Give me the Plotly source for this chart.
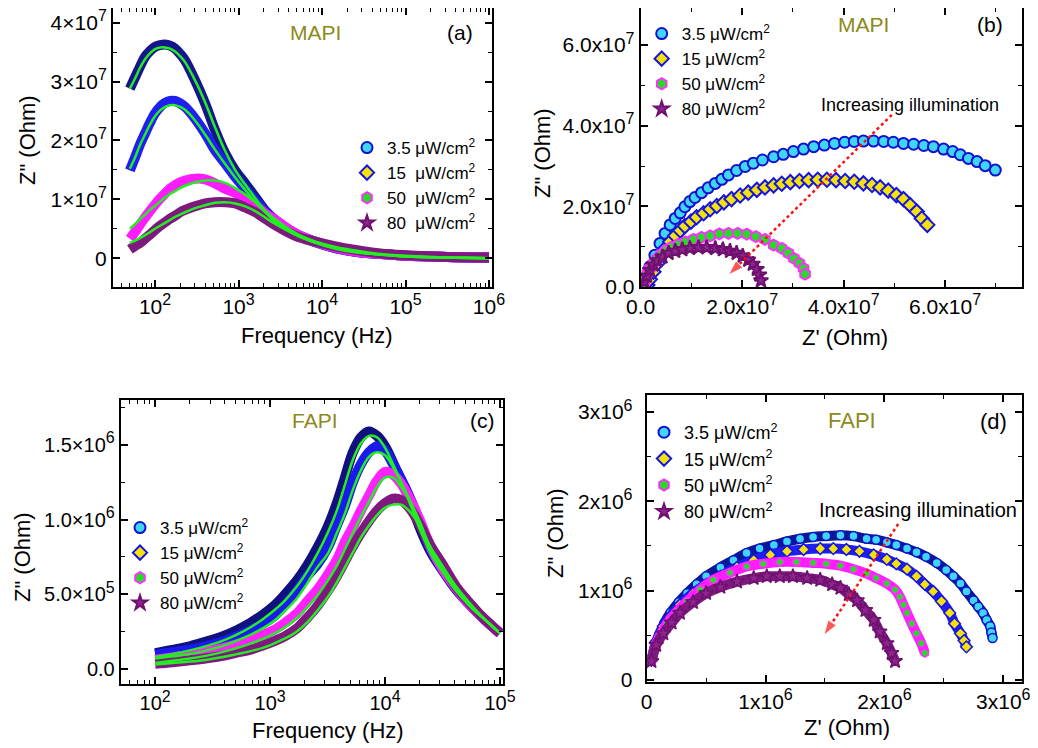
import plotly.graph_objects as go

# Page has an 8px body margin; the figure is sized so that it ends at the window edge.
OFF = 8
W, H = 1038 - OFF, 748 - OFF
FONT = "Liberation Sans, Arial, Helvetica, sans-serif"

# ---------------- DATA ----------------
labels = ["3.5 μW/cm<sup>2</sup>", "15 μW/cm<sup>2</sup>", "50 μW/cm<sup>2</sup>", "80 μW/cm<sup>2</sup>"]
labels_a = ["3.5 μW/cm<sup>2</sup>", "15\u00a0 μW/cm<sup>2</sup>", "50\u00a0 μW/cm<sup>2</sup>", "80\u00a0 μW/cm<sup>2</sup>"]

# Panel (a): MAPI Bode, Z'' in units of 1e7 Ohm
freq_a = [50, 58, 66, 76, 87, 100, 115, 132, 151, 174, 200, 229, 302, 398, 525, 692, 912,
          1202, 1585, 2089, 2754, 4786, 8318, 14454, 25119, 50119, 100000, 316228, 1000000]
za_35 = [2.88, 3.08, 3.25, 3.42, 3.52, 3.59, 3.62, 3.63, 3.61, 3.56, 3.47, 3.36, 3.02, 2.63, 2.17,
         1.78, 1.49, 1.27, 1.04, 0.81, 0.65, 0.42, 0.28, 0.17, 0.11, 0.07, 0.04, 0.02, 0.01]
za_15 = [1.49, 1.72, 1.93, 2.12, 2.30, 2.46, 2.57, 2.64, 2.67, 2.67, 2.63, 2.57, 2.37, 2.12, 1.83,
         1.61, 1.38, 1.18, 0.98, 0.79, 0.63, 0.41, 0.27, 0.17, 0.11, 0.07, 0.04, 0.02, 0.01]
za_50 = [0.33, 0.45, 0.57, 0.69, 0.80, 0.91, 1.01, 1.10, 1.18, 1.24, 1.29, 1.32, 1.35, 1.34, 1.27,
         1.18, 1.11, 1.01, 0.90, 0.76, 0.65, 0.42, 0.28, 0.18, 0.11, 0.07, 0.04, 0.02, 0.01]
za_80 = [0.15, 0.21, 0.26, 0.33, 0.40, 0.48, 0.55, 0.61, 0.67, 0.72, 0.78, 0.82, 0.88, 0.93, 0.95,
         0.95, 0.93, 0.86, 0.78, 0.67, 0.56, 0.38, 0.28, 0.20, 0.14, 0.08, 0.05, 0.02, 0.01]
fa_35 = [2.88, 3.06, 3.23, 3.38, 3.48, 3.55, 3.58, 3.58, 3.56, 3.51, 3.43, 3.33, 3.02, 2.65, 2.22,
         1.82, 1.50, 1.25, 1.02, 0.80, 0.63, 0.41, 0.27, 0.17, 0.11, 0.06, 0.03, 0.01, 0.00]
fa_15 = [1.52, 1.72, 1.92, 2.10, 2.27, 2.41, 2.51, 2.57, 2.60, 2.60, 2.57, 2.52, 2.34, 2.10, 1.84,
         1.60, 1.37, 1.16, 0.96, 0.78, 0.62, 0.40, 0.26, 0.16, 0.10, 0.06, 0.03, 0.01, 0.00]
fa_50 = [0.50, 0.58, 0.66, 0.74, 0.82, 0.89, 0.96, 1.03, 1.09, 1.14, 1.19, 1.23, 1.29, 1.32, 1.32,
         1.28, 1.19, 1.08, 0.95, 0.80, 0.66, 0.43, 0.28, 0.18, 0.11, 0.06, 0.03, 0.01, 0.00]
fa_80 = [0.26, 0.30, 0.34, 0.39, 0.44, 0.50, 0.55, 0.60, 0.65, 0.70, 0.74, 0.78, 0.85, 0.90, 0.94,
         0.95, 0.93, 0.88, 0.80, 0.69, 0.58, 0.40, 0.28, 0.19, 0.13, 0.07, 0.04, 0.01, 0.00]

# Panel (b): MAPI Nyquist, units of 1e7 Ohm
zb_35_re = [0.07, 0.11, 0.18, 0.28, 0.38, 0.48, 0.58, 0.68, 0.78, 0.87, 0.97, 1.07, 1.20, 1.33, 1.47,
            1.60, 1.73, 1.89, 2.06, 2.22, 2.40, 2.62, 2.81, 3.01, 3.21, 3.41, 3.62, 3.82, 4.02, 4.21,
            4.39, 4.59, 4.79, 4.98, 5.18, 5.38, 5.58, 5.77, 5.97, 6.15, 6.30, 6.46, 6.63, 6.79, 6.99]
zb_35_im = [0.09, 0.26, 0.50, 0.79, 1.08, 1.33, 1.54, 1.70, 1.84, 1.99, 2.12, 2.22, 2.34, 2.46, 2.57,
            2.67, 2.78, 2.89, 2.99, 3.07, 3.15, 3.23, 3.29, 3.36, 3.42, 3.48, 3.52, 3.56, 3.59, 3.61,
            3.62, 3.62, 3.61, 3.59, 3.56, 3.54, 3.51, 3.48, 3.42, 3.36, 3.28, 3.19, 3.11, 3.01, 2.90]
zb_15_re = [0.13, 0.18, 0.25, 0.33, 0.41, 0.49, 0.58, 0.68, 0.78, 0.87, 0.99, 1.10, 1.24, 1.37, 1.50,
            1.64, 1.79, 1.96, 2.12, 2.29, 2.45, 2.62, 2.78, 2.95, 3.13, 3.31, 3.49, 3.67, 3.85, 4.03,
            4.21, 4.39, 4.56, 4.72, 4.88, 5.04, 5.18, 5.31, 5.44, 5.54, 5.65]
zb_15_im = [0.05, 0.19, 0.38, 0.59, 0.79, 0.96, 1.12, 1.27, 1.40, 1.51, 1.62, 1.73, 1.83, 1.93, 2.01,
            2.10, 2.18, 2.27, 2.34, 2.41, 2.47, 2.52, 2.56, 2.60, 2.63, 2.65, 2.66, 2.66, 2.65, 2.63,
            2.61, 2.57, 2.53, 2.47, 2.39, 2.28, 2.18, 2.03, 1.87, 1.70, 1.54]
zb_50_re = [0.07, 0.09, 0.13, 0.18, 0.25, 0.33, 0.41, 0.51, 0.61, 0.74, 0.88, 1.04, 1.20, 1.37, 1.55,
            1.73, 1.91, 2.09, 2.27, 2.45, 2.62, 2.78, 2.91, 3.02, 3.13, 3.21, 3.24]
zb_50_im = [0.09, 0.22, 0.34, 0.46, 0.59, 0.71, 0.82, 0.92, 0.99, 1.06, 1.12, 1.18, 1.23, 1.27, 1.32,
            1.33, 1.33, 1.31, 1.25, 1.18, 1.04, 0.96, 0.84, 0.71, 0.59, 0.46, 0.32]
zb_80_re = [0.07, 0.12, 0.18, 0.25, 0.33, 0.43, 0.55, 0.68, 0.82, 0.97, 1.14, 1.30, 1.47, 1.62, 1.76,
            1.89, 2.01, 2.12, 2.21, 2.29, 2.34, 2.37]
zb_80_im = [0.13, 0.27, 0.42, 0.55, 0.65, 0.75, 0.84, 0.89, 0.93, 0.96, 0.98, 0.98, 0.96, 0.93, 0.89,
            0.84, 0.77, 0.67, 0.57, 0.44, 0.30, 0.16]
arrow_b_re = [4.95, 1.73]
arrow_b_im = [4.27, 0.30]

# Panel (c): FAPI Bode, units of 1e6 Ohm
freq_c = [100, 141, 200, 282, 389, 513, 676, 851, 1072, 1349, 1698, 2089, 2570, 3162, 3802, 4467,
          5248, 6166, 7244, 8511, 10000, 11749, 13804, 16596, 19953, 25119, 31623, 41687, 56234,
          74131, 100000]
zc_35 = [0.107, 0.128, 0.152, 0.185, 0.22, 0.26, 0.31, 0.36, 0.42, 0.50, 0.59, 0.69, 0.81, 0.95,
         1.11, 1.28, 1.45, 1.55, 1.59, 1.56, 1.49, 1.38, 1.26, 1.12, 0.95, 0.78, 0.66, 0.53, 0.42,
         0.33, 0.24]
zc_15 = [0.096, 0.112, 0.13, 0.155, 0.185, 0.22, 0.26, 0.30, 0.35, 0.43, 0.52, 0.62, 0.70, 0.81,
         0.96, 1.09, 1.25, 1.37, 1.45, 1.49, 1.46, 1.37, 1.27, 1.14, 0.99, 0.80, 0.67, 0.54, 0.42,
         0.33, 0.24]
zc_50 = [0.062, 0.078, 0.096, 0.117, 0.14, 0.165, 0.196, 0.225, 0.26, 0.31, 0.37, 0.45, 0.53, 0.63,
         0.73, 0.85, 0.95, 1.06, 1.16, 1.26, 1.32, 1.30, 1.24, 1.13, 1.00, 0.81, 0.67, 0.54, 0.42,
         0.33, 0.24]
zc_80 = [0.036, 0.046, 0.058, 0.072, 0.089, 0.11, 0.13, 0.155, 0.185, 0.22, 0.27, 0.34, 0.42, 0.52,
         0.62, 0.72, 0.82, 0.91, 0.99, 1.06, 1.11, 1.14, 1.13, 1.07, 0.97, 0.82, 0.70, 0.55, 0.43,
         0.33, 0.24]
fc_35 = [0.08, 0.10, 0.125, 0.155, 0.19, 0.23, 0.28, 0.33, 0.39, 0.46, 0.55, 0.65, 0.77, 0.91, 1.06,
         1.23, 1.40, 1.51, 1.56, 1.55, 1.48, 1.37, 1.25, 1.10, 0.94, 0.77, 0.65, 0.52, 0.41, 0.33, 0.24]
fc_15 = [0.07, 0.085, 0.10, 0.125, 0.155, 0.19, 0.23, 0.27, 0.32, 0.39, 0.47, 0.57, 0.68, 0.77, 0.91,
         1.04, 1.20, 1.33, 1.42, 1.45, 1.43, 1.35, 1.25, 1.12, 0.97, 0.79, 0.66, 0.53, 0.42, 0.33, 0.24]
fc_50 = [0.04, 0.055, 0.07, 0.09, 0.115, 0.14, 0.17, 0.20, 0.235, 0.28, 0.34, 0.41, 0.49, 0.59, 0.69,
         0.80, 0.91, 1.02, 1.12, 1.22, 1.28, 1.28, 1.22, 1.12, 0.99, 0.80, 0.66, 0.53, 0.42, 0.33, 0.24]
fc_80 = [0.03, 0.04, 0.05, 0.063, 0.08, 0.10, 0.12, 0.14, 0.17, 0.205, 0.25, 0.31, 0.39, 0.48, 0.58,
         0.68, 0.78, 0.88, 0.96, 1.03, 1.08, 1.10, 1.10, 1.05, 0.96, 0.81, 0.69, 0.55, 0.43, 0.33, 0.24]

# Panel (d): FAPI Nyquist, units of 1e6 Ohm
zd_35_re = [0.04, 0.07, 0.11, 0.15, 0.20, 0.27, 0.34, 0.42, 0.50, 0.62, 0.73, 0.84, 0.95, 1.07, 1.18,
            1.29, 1.40, 1.51, 1.63, 1.74, 1.85, 1.93, 2.02, 2.10, 2.19, 2.27, 2.35, 2.44, 2.52, 2.58,
            2.64, 2.69, 2.75, 2.79, 2.83, 2.86, 2.89, 2.90, 2.91]
zd_35_im = [0.22, 0.37, 0.52, 0.64, 0.75, 0.87, 0.97, 1.07, 1.16, 1.26, 1.34, 1.42, 1.47, 1.51, 1.55,
            1.58, 1.60, 1.61, 1.62, 1.61, 1.58, 1.57, 1.54, 1.51, 1.47, 1.43, 1.38, 1.31, 1.23, 1.16,
            1.08, 0.99, 0.89, 0.82, 0.75, 0.67, 0.60, 0.53, 0.47]
zd_15_re = [0.04, 0.08, 0.14, 0.20, 0.28, 0.39, 0.50, 0.62, 0.76, 0.90, 1.04, 1.18, 1.32, 1.46, 1.57,
            1.68, 1.79, 1.91, 2.02, 2.10, 2.19, 2.27, 2.34, 2.41, 2.48, 2.55, 2.59, 2.64, 2.67, 2.69]
zd_15_im = [0.22, 0.43, 0.60, 0.71, 0.84, 0.97, 1.07, 1.16, 1.26, 1.34, 1.40, 1.44, 1.46, 1.47, 1.47,
            1.46, 1.44, 1.40, 1.35, 1.30, 1.24, 1.16, 1.07, 0.99, 0.88, 0.75, 0.63, 0.52, 0.44, 0.37]
zd_50_re = [0.04, 0.08, 0.13, 0.17, 0.25, 0.34, 0.45, 0.56, 0.70, 0.84, 0.98, 1.12, 1.26, 1.40, 1.51,
            1.63, 1.74, 1.85, 1.93, 2.02, 2.09, 2.13, 2.16, 2.19, 2.23, 2.27, 2.31, 2.34]
zd_50_im = [0.21, 0.41, 0.54, 0.63, 0.76, 0.88, 1.01, 1.12, 1.20, 1.27, 1.30, 1.32, 1.32, 1.31, 1.30,
            1.28, 1.24, 1.19, 1.14, 1.08, 1.01, 0.93, 0.84, 0.75, 0.63, 0.52, 0.41, 0.30]
zd_80_re = [0.04, 0.08, 0.14, 0.21, 0.28, 0.39, 0.50, 0.62, 0.76, 0.90, 1.01, 1.12, 1.23, 1.35, 1.46,
            1.56, 1.63, 1.70, 1.77, 1.84, 1.91, 1.96, 2.02, 2.06, 2.09]
zd_80_im = [0.21, 0.39, 0.52, 0.64, 0.75, 0.87, 0.97, 1.04, 1.10, 1.14, 1.16, 1.16, 1.16, 1.14, 1.12,
            1.07, 1.03, 0.96, 0.89, 0.78, 0.67, 0.54, 0.41, 0.30, 0.21]
arrow_d_re = [2.116, 1.49]
arrow_d_im = [1.745, 0.50]

# Tick labels (superscript exponents drawn a little larger than default)
def sp(e):
    return "<sup><span style='font-size:16px'>" + e + "</span></sup>"

ticks_a_x = [1e2, 1e3, 1e4, 1e5, 1e6]
ticktext_a_x = ["10" + sp("2"), "10" + sp("3"), "10" + sp("4"), "10" + sp("5"), "10" + sp("6")]
ticks_a_y = [0, 1e7, 2e7, 3e7, 4e7]
ticktext_a_y = ["0", "1×10" + sp("7"), "2×10" + sp("7"), "3×10" + sp("7"), "4×10" + sp("7")]
ticks_b = [0, 2e7, 4e7, 6e7]
ticktext_b = ["0.0", "2.0x10" + sp("7"), "4.0x10" + sp("7"), "6.0x10" + sp("7")]
ticks_c_x = [1e2, 1e3, 1e4, 1e5]
ticktext_c_x = ["10" + sp("2"), "10" + sp("3"), "10" + sp("4"), "10" + sp("5")]
ticks_c_y = [0, 5e5, 1e6, 1.5e6]
ticktext_c_y = ["0.0", "5.0×10" + sp("5"), "1.0×10" + sp("6"), "1.5×10" + sp("6")]
ticks_d = [0, 1e6, 2e6, 3e6]
ticktext_d = ["0", "1x10" + sp("6"), "2x10" + sp("6"), "3x10" + sp("6")]

# ---------------- STYLE ----------------
GREEN = "#22ee22"
band_a = ["#15158c", "#1f1ff0", "#ff1cff", "#7e1a7e"]
band_c = ["#10107e", "#1a1aee", "#ff22ff", "#80187f"]
mk_sym = ["circle", "diamond", "hexagon", "star"]
mk_fill = ["#3fd6f5", "#f5e20a", "#22dd22", "#8e248e"]
mk_edge = ["#1010d0", "#1414e6", "#ff30ff", "#6e106e"]

def s(vals, k):
    return [v * k for v in vals]

fig = go.Figure()

# ---- panel (a) ----
for z, c in zip([za_35, za_15, za_50, za_80], band_a):
    fig.add_trace(go.Scatter(x=freq_a, y=s(z, 1e7), mode="lines", line=dict(color=c, width=10, shape="spline"),
                             xaxis="x", yaxis="y", showlegend=False, hoverinfo="skip"))
for z in [fa_35, fa_15, fa_50, fa_80]:
    fig.add_trace(go.Scatter(x=freq_a, y=s(z, 1e7), mode="lines", line=dict(color=GREEN, width=2.5, shape="spline"),
                             xaxis="x", yaxis="y", showlegend=False, hoverinfo="skip"))
for i in range(4):
    fig.add_trace(go.Scatter(x=[None], y=[None], mode="markers", name=labels_a[i], xaxis="x", yaxis="y",
                             marker=dict(symbol=mk_sym[i], size=11, color=mk_fill[i],
                                         line=dict(color=mk_edge[i], width=2)), legend="legend"))

# ---- panel (b) ----
b_sets = [(zb_35_re, zb_35_im), (zb_15_re, zb_15_im), (zb_50_re, zb_50_im), (zb_80_re, zb_80_im)]
b_sizes = [11, 11, 11, 11]
for i, (re, im) in enumerate(b_sets):
    fig.add_trace(go.Scatter(x=s(re, 1e7), y=s(im, 1e7), mode="markers", name=labels[i], xaxis="x2", yaxis="y2",
                             marker=dict(symbol=mk_sym[i], size=b_sizes[i], color=mk_fill[i],
                                         line=dict(color=mk_edge[i], width=2)), legend="legend2"))
fig.add_trace(go.Scatter(x=s(arrow_b_re, 1e7), y=s(arrow_b_im, 1e7), mode="lines+markers", xaxis="x2", yaxis="y2",
                         line=dict(color="#ff1010", width=2.5, dash="dot"),
                         marker=dict(symbol="arrow", size=[0, 16], angleref="previous", color="#ff1010"),
                         showlegend=False, hoverinfo="skip"))

# ---- panel (c) ----
for z, c in zip([zc_35, zc_15, zc_50, zc_80], band_c):
    fig.add_trace(go.Scatter(x=freq_c, y=s(z, 1e6), mode="lines", line=dict(color=c, width=10, shape="spline"),
                             xaxis="x3", yaxis="y3", showlegend=False, hoverinfo="skip"))
for z in [fc_35, fc_15, fc_50, fc_80]:
    fig.add_trace(go.Scatter(x=freq_c, y=s(z, 1e6), mode="lines", line=dict(color=GREEN, width=2.5, shape="spline"),
                             xaxis="x3", yaxis="y3", showlegend=False, hoverinfo="skip"))
for i in range(4):
    fig.add_trace(go.Scatter(x=[None], y=[None], mode="markers", name=labels[i], xaxis="x3", yaxis="y3",
                             marker=dict(symbol=mk_sym[i], size=11, color=mk_fill[i],
                                         line=dict(color=mk_edge[i], width=2)), legend="legend3"))

# ---- panel (d) ----
d_sets = [(zd_35_re, zd_35_im), (zd_15_re, zd_15_im), (zd_50_re, zd_50_im), (zd_80_re, zd_80_im)]
d_band = ["#0c1890", "#1e1ef5", "#ff1cff", "#7e1a7e"]
d_msize = [9, 9, 8, 11]
for i, (re, im) in enumerate(d_sets):
    fig.add_trace(go.Scatter(x=s(re, 1e6), y=s(im, 1e6), mode="lines+markers", xaxis="x4", yaxis="y4",
                             line=dict(color=d_band[i], width=10, shape="spline"),
                             marker=dict(symbol=mk_sym[i], size=d_msize[i], color=mk_fill[i],
                                         line=dict(color=mk_edge[i], width=1.5)),
                             showlegend=False, hoverinfo="skip"))
for i in range(4):
    fig.add_trace(go.Scatter(x=[None], y=[None], mode="markers", name=labels[i], xaxis="x4", yaxis="y4",
                             marker=dict(symbol=mk_sym[i], size=11, color=mk_fill[i],
                                         line=dict(color=mk_edge[i], width=2)), legend="legend4"))
fig.add_trace(go.Scatter(x=s(arrow_d_re, 1e6), y=s(arrow_d_im, 1e6), mode="lines+markers", xaxis="x4", yaxis="y4",
                         line=dict(color="#ff1010", width=2.5, dash="dot"),
                         marker=dict(symbol="arrow", size=[0, 16], angleref="previous", color="#ff1010"),
                         showlegend=False, hoverinfo="skip"))

# ---------------- LAYOUT ----------------
def px(x):
    return (x - OFF) / W

def py(y):
    return 1 - (y - OFF) / H

def ax(domain, rng, tickvals, ticktext, fsize, anchor, minor, log=False, standoff=None):
    d = dict(domain=domain, range=rng, anchor=anchor, tickmode="array", tickvals=tickvals, ticktext=ticktext,
             showline=True, linecolor="black", linewidth=2, mirror="allticks", ticks="inside", ticklen=7,
             tickwidth=1.5, tickcolor="black", showgrid=False, zeroline=False, automargin=False,
             ticklabeloverflow="allow",
             tickfont=dict(family=FONT, size=fsize, color="black"), minor=minor)
    if log:
        d["type"] = "log"
    if standoff is not None:
        d["ticklabelstandoff"] = standoff
    return d

minor_log = dict(ticks="inside", ticklen=4, tickwidth=1.2, tickcolor="black", tickmode="linear", tick0=0, dtick="D1", showgrid=False)
def minor_lin(step):
    return dict(ticks="inside", ticklen=4, tickwidth=1.2, tickcolor="black", tickmode="linear", tick0=0, dtick=step, showgrid=False)

dom_a_x = [px(113), px(492)]
dom_a_y = [py(287), py(8)]
dom_b_x = [px(640.7), px(1021.7)]
dom_b_y = [py(287), py(8)]
dom_c_x = [px(120.7), px(503)]
dom_c_y = [py(684), py(400)]
dom_d_x = [px(646.7), px(1021.7)]
dom_d_y = [py(681.7), py(395)]

fig.update_layout(
    width=W, height=H, autosize=False,
    margin=dict(l=0, r=0, t=0, b=0, pad=0),
    paper_bgcolor="white", plot_bgcolor="white",
    font=dict(family=FONT, color="black"),
    xaxis=ax(dom_a_x, [1.497, 6.036], ticks_a_x, ticktext_a_x, 21, "y", minor_log, log=True),
    yaxis=ax(dom_a_y, [-0.49e7, 4.25e7], ticks_a_y, ticktext_a_y, 21, "x", minor_lin(5e6)),
    xaxis2=ax(dom_b_x, [0, 7.51e7], ticks_b, ticktext_b, 21, "y2", minor_lin(1e7)),
    yaxis2=ax(dom_b_y, [0, 6.92e7], ticks_b, ticktext_b, 21, "x2", minor_lin(1e7)),
    xaxis3=ax(dom_c_x, [1.70, 5.026], ticks_c_x, ticktext_c_x, 20, "y3", minor_log, log=True),
    yaxis3=ax(dom_c_y, [-0.1e6, 1.8e6], ticks_c_y, ticktext_c_y, 20, "x3", minor_lin(2.5e5)),
    xaxis4=ax(dom_d_x, [0, 3.155e6], ticks_d, ticktext_d, 21, "y4", minor_lin(5e5)),
    yaxis4=ax(dom_d_y, [-0.02e6, 3.19e6], ticks_d, ticktext_d, 21, "x4", minor_lin(5e5), standoff=8),
    legend=dict(x=px(347), y=py(130), xanchor="left", yanchor="top", bgcolor="rgba(0,0,0,0)",
                font=dict(family=FONT, size=17, color="black"), tracegroupgap=0),
    legend2=dict(x=px(641.7), y=py(16), xanchor="left", yanchor="top", bgcolor="rgba(0,0,0,0)",
                 font=dict(family=FONT, size=17, color="black"), tracegroupgap=0),
    legend3=dict(x=px(120), y=py(510), xanchor="left", yanchor="top", bgcolor="rgba(0,0,0,0)",
                 font=dict(family=FONT, size=17, color="black"), tracegroupgap=0),
    legend4=dict(x=px(644), y=py(414), xanchor="left", yanchor="top", bgcolor="rgba(0,0,0,0)",
                 font=dict(family=FONT, size=18, color="black"), tracegroupgap=0),
)

OLIVE = "#8c8a1c"
texts = [
    # (text, xpx, ypx, size, color, angle)
    ("MAPI", 315, 33, 21, OLIVE, 0), ("(a)", 460, 33, 21, "black", 0),
    ("MAPI", 863, 25, 21, OLIVE, 0), ("(b)", 990, 25, 21, "black", 0),
    ("FAPI", 315, 420, 21, OLIVE, 0), ("(c)", 482, 420, 21, "black", 0),
    ("FAPI", 852, 420, 22, OLIVE, 0), ("(d)", 993, 421, 22, "black", 0),
    ("Frequency (Hz)", 317, 335, 22, "black", 0), ('Z" (Ohm)', 28, 140, 22, "black", -90),
    ("Z' (Ohm)", 845, 337, 22, "black", 0), ('Z" (Ohm)', 542, 153, 22, "black", -90),
    ("Frequency (Hz)", 328, 730, 22, "black", 0), ('Z" (Ohm)', 22, 557, 22, "black", -90),
    ("Z' (Ohm)", 847, 727, 22, "black", 0), ('Z" (Ohm)', 555, 533, 22, "black", -90),
]
for t, x, y, sz, col, ang in texts:
    fig.add_annotation(text=t, x=px(x), y=py(y), xref="paper", yref="paper", showarrow=False,
                       xanchor="center", yanchor="middle", textangle=ang,
                       font=dict(family=FONT, size=sz, color=col))

fig.add_annotation(text="Increasing illumination", x=5.31e7, y=4.52e7, xref="x2", yref="y2", showarrow=False,
                   xanchor="center", yanchor="middle", font=dict(family=FONT, size=18, color="black"))
fig.add_annotation(text="Increasing illumination", x=2.28e6, y=1.90e6, xref="x4", yref="y4", showarrow=False,
                   xanchor="center", yanchor="middle", font=dict(family=FONT, size=20, color="black"))

fig.write_html("out.html")
